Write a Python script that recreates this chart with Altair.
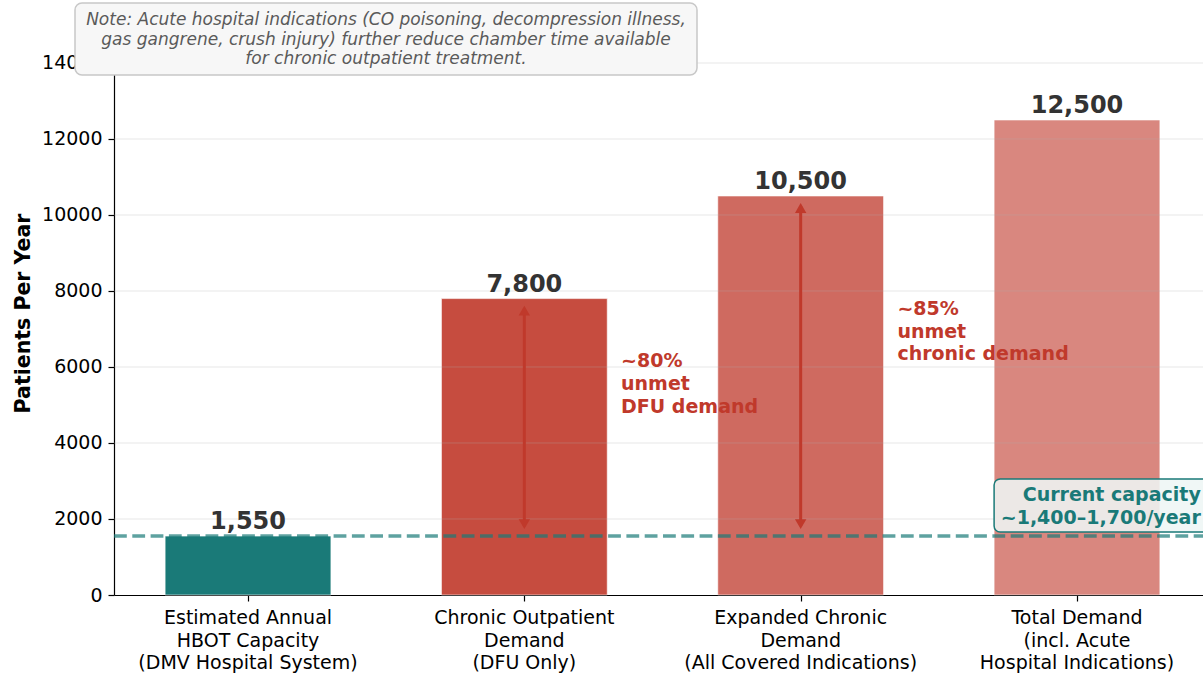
import altair as alt
import pandas as pd

# ---------------- data ----------------
categories = [
    "Estimated Annual\nHBOT Capacity\n(DMV Hospital System)",
    "Chronic Outpatient\nDemand\n(DFU Only)",
    "Expanded Chronic\nDemand\n(All Covered Indications)",
    "Total Demand\n(incl. Acute\nHospital Indications)",
]
values = [1550, 7800, 10500, 12500]
value_labels = ["1,550", "7,800", "10,500", "12,500"]
bar_colors = ["#1a7a78", "#c0392b", "#c0392b", "#c0392b"]
bar_opacity = [1.0, 0.9, 0.75, 0.6]
y_ticks = [0, 2000, 4000, 6000, 8000, 10000, 12000, 14000]
capacity_value = 1550

arrow_bars = [1, 2]
arrow_from = [1550, 1550]
arrow_to = [7800, 10500]

unmet_texts = ["~80%\nunmet\nDFU demand", "~85%\nunmet\nchronic demand"]
unmet_x = [1.35, 2.35]
unmet_y = [5990, 7370]

note_text = ("Note: Acute hospital indications (CO poisoning, decompression illness,\n"
             "gas gangrene, crush injury) further reduce chamber time available\n"
             "for chronic outpatient treatment.")
capacity_text = "Current capacity\n~1,400\u20131,700/year"

TEAL = "#1a7a78"
RED = "#c0392b"
FONT = "DejaVu Sans"

LEFT, TOP = 114, 31
W, H = 1089, 564
xscale = alt.Scale(domain=[-0.485, 3.456], nice=False, zero=False)
yscale = alt.Scale(domain=[0, 14842], nice=False, zero=False)

df = pd.DataFrame({
    "idx": list(range(len(categories))),
    "category": categories,
    "value": values,
    "label": value_labels,
    "color": bar_colors,
    "opacity": bar_opacity,
})

bars = alt.Chart(df).transform_calculate(
    x0="datum.idx - 0.3", x1="datum.idx + 0.3", zero="0"
).mark_rect(stroke="white", strokeWidth=1, strokeOpacity=0.6).encode(
    x=alt.X("x0:Q", scale=xscale,
            axis=alt.Axis(values=[0, 1, 2, 3], labels=False, title=None, grid=False,
                          tickSize=6, tickWidth=1.2, tickColor="black",
                          domainColor="black", domainWidth=1.2, zindex=0)),
    x2="x1:Q",
    y=alt.Y("zero:Q", scale=yscale,
            axis=alt.Axis(values=y_ticks, format="d", grid=False,
                          labelFontSize=19, labelColor="black", labelPadding=6,
                          labelFont=FONT, titleFont=FONT,
                          tickSize=6, tickWidth=1.2, tickColor="black",
                          domainColor="black", domainWidth=1.2,
                          title="Patients Per Year", titleFontSize=20.5,
                          titleFontWeight="bold", titleColor="black",
                          titlePadding=8, zindex=0)),
    y2="value:Q",
    color=alt.Color("color:N", scale=None),
    opacity=alt.Opacity("opacity:Q", scale=None),
)

grid_df = pd.DataFrame({"tick": y_ticks[1:]})
grid = alt.Chart(grid_df).mark_rule(color="#b0b0b0", opacity=0.3, strokeWidth=1).encode(
    y=alt.Y("tick:Q", scale=yscale),
    x=alt.value(0), x2=alt.value(W),
)

cap_df = pd.DataFrame({"cap": [capacity_value]})
cap_line = alt.Chart(cap_df).mark_rule(
    color=TEAL, opacity=0.7, strokeWidth=3.5, strokeDash=[12.8, 5.5]
).encode(y=alt.Y("cap:Q", scale=yscale), x=alt.value(0), x2=alt.value(W))

arr_df = pd.DataFrame({"idx": arrow_bars, "y0": arrow_from, "y1": arrow_to})
arrow_stem = alt.Chart(arr_df).mark_rule(
    color=RED, strokeWidth=3, yOffset=-10, y2Offset=10
).encode(x=alt.X("idx:Q", scale=xscale), y=alt.Y("y0:Q", scale=yscale), y2="y1:Q")
arrow_top = alt.Chart(arr_df).mark_point(
    shape="triangle-up", filled=True, size=130, color=RED, opacity=1, yOffset=12
).encode(x=alt.X("idx:Q", scale=xscale), y=alt.Y("y1:Q", scale=yscale))
arrow_bot = alt.Chart(arr_df).mark_point(
    shape="triangle-down", filled=True, size=130, color=RED, opacity=1, yOffset=-12
).encode(x=alt.X("idx:Q", scale=xscale), y=alt.Y("y0:Q", scale=yscale))

value_text = alt.Chart(df).mark_text(
    font=FONT, fontSize=24, fontWeight="bold", color="#333333",
    align="center", baseline="alphabetic", dy=-7
).encode(x=alt.X("idx:Q", scale=xscale), y=alt.Y("value:Q", scale=yscale), text="label:N")

xlabels = alt.Chart(df).mark_text(
    font=FONT, fontSize=19, color="black", align="center", baseline="alphabetic",
    lineBreak="\n", lineHeight=22.5
).encode(x=alt.X("idx:Q", scale=xscale), y=alt.value(624 - TOP), text="category:N")

unmet_df = pd.DataFrame({"x": unmet_x, "y": unmet_y, "t": unmet_texts})
unmet = alt.Chart(unmet_df).mark_text(
    font=FONT, fontSize=19, fontWeight="bold", color=RED, align="left",
    baseline="alphabetic", lineBreak="\n", lineHeight=22.7
).encode(x=alt.X("x:Q", scale=xscale), y=alt.Y("y:Q", scale=yscale), text="t:N")

capbox_df = pd.DataFrame({"x": [2.70], "x2": [3.56], "y": [1658], "y2": [3053]})
cap_box = alt.Chart(capbox_df).mark_rect(
    fill="#eef6f5", fillOpacity=0.88, stroke=TEAL, strokeWidth=1.5, cornerRadius=6
).encode(x=alt.X("x:Q", scale=xscale), x2="x2:Q", y=alt.Y("y:Q", scale=yscale), y2="y2:Q")
captext_df = pd.DataFrame({"x": [3.448], "y": [2474], "t": [capacity_text]})
cap_text = alt.Chart(captext_df).mark_text(
    font=FONT, fontSize=19, fontWeight="bold", color=TEAL, align="right",
    baseline="alphabetic", lineBreak="\n", lineHeight=23
).encode(x=alt.X("x:Q", scale=xscale), y=alt.Y("y:Q", scale=yscale), text="t:N")

note_df = pd.DataFrame({"t": [note_text]})
note_box = alt.Chart(note_df).mark_rect(
    fill="#f7f7f7", stroke="#c8c8c8", strokeWidth=1.5, cornerRadius=7
).encode(x=alt.value(75 - LEFT), x2=alt.value(697 - LEFT),
         y=alt.value(3 - TOP), y2=alt.value(75 - TOP))
note = alt.Chart(note_df).mark_text(
    font=FONT, fontSize=17, fontStyle="italic", color="#5a5a5a", align="center",
    baseline="alphabetic", lineBreak="\n", lineHeight=19.5
).encode(x=alt.value(386 - LEFT), y=alt.value(25 - TOP), text="t:N")

chart = alt.layer(
    bars, grid, cap_line, arrow_stem, arrow_top, arrow_bot, value_text, xlabels,
    unmet, cap_box, cap_text, note_box, note
).properties(
    width=W, height=H,
    autosize=alt.AutoSizeParams(type="none"),
    padding={"left": LEFT, "top": TOP, "right": 0, "bottom": 674 - TOP - H},
    background="white",
).configure(font=FONT).configure_view(strokeWidth=0, stroke="transparent")

chart.save("out.html", embed_options={"renderer": "svg", "actions": False})
